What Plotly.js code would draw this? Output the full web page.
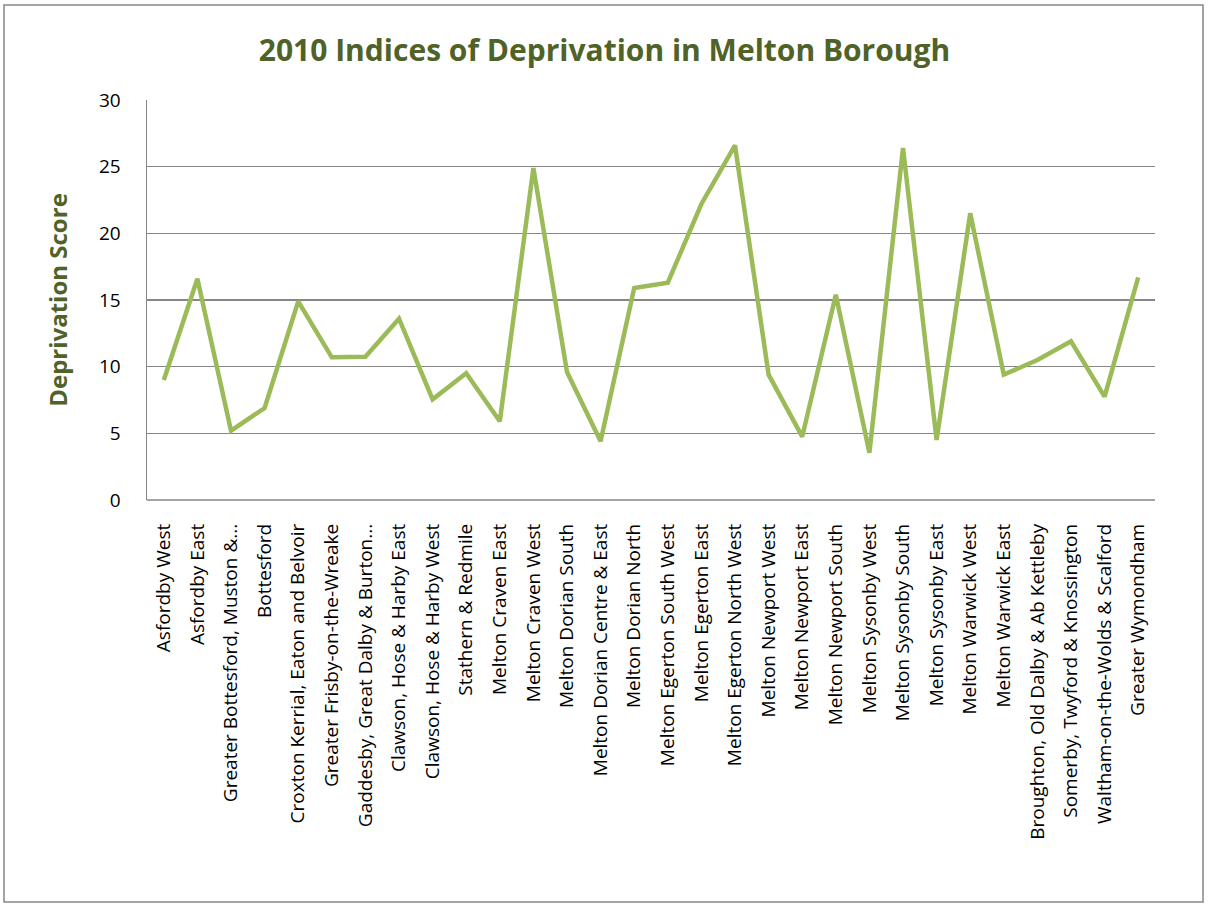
<!DOCTYPE html>
<html>
<head>
<meta charset="utf-8">
<script src="https://cdn.plot.ly/plotly-3.0.1.min.js"></script>
<style>html,body{margin:0;padding:0;background:#fff;}#chart{width:1209px;height:907px;}</style>
</head>
<body>
<div id="chart"></div>
<script>
const categories = [
  "Asfordby West", "Asfordby East", "Greater Bottesford, Muston &...", "Bottesford",
  "Croxton Kerrial, Eaton and Belvoir", "Greater Frisby-on-the-Wreake",
  "Gaddesby, Great Dalby & Burton...", "Clawson, Hose & Harby East",
  "Clawson, Hose & Harby West", "Stathern & Redmile", "Melton Craven East",
  "Melton Craven West", "Melton Dorian South", "Melton Dorian Centre & East",
  "Melton Dorian North", "Melton Egerton South West", "Melton Egerton East",
  "Melton Egerton North West", "Melton Newport West", "Melton Newport East",
  "Melton Newport South", "Melton Sysonby West", "Melton Sysonby South",
  "Melton Sysonby East", "Melton Warwick West", "Melton Warwick East",
  "Broughton, Old Dalby & Ab Kettleby", "Somerby, Twyford & Knossington",
  "Waltham-on-the-Wolds & Scalford", "Greater Wymondham"
];
const scores = [
  9.0, 16.6, 5.2, 6.9, 14.9, 10.7, 10.75, 13.6, 7.55, 9.5,
  5.9, 24.9, 9.6, 4.4, 15.9, 16.3, 22.2, 26.6, 9.4, 4.75,
  15.4, 3.55, 26.4, 4.5, 21.5, 9.4, 10.5, 11.9, 7.75, 16.7
];
const yTicks = [0, 5, 10, 15, 20, 25, 30];

const trace = {
  x: categories,
  y: scores,
  type: 'scatter',
  mode: 'lines',
  line: {color: '#9BBB59', width: 4.5},
  hoverinfo: 'x+y'
};

const W = 1209, H = 907, L = 147, R = 54, T = 100, B = 407;
const pw = W - L - R, ph = H - T - B;
const px = v => (v - L) / pw;
const py = v => (H - B - v) / ph;

const layout = {
  width: W, height: H,
  margin: {l: L, r: R, t: T, b: B},
  paper_bgcolor: '#ffffff',
  plot_bgcolor: '#ffffff',
  showlegend: false,
  font: {family: 'Open Sans, sans-serif', color: '#000000'},
  title: {
    text: '2010 Indices of Deprivation in Melton Borough',
    font: {family: 'Open Sans, sans-serif', size: 30, color: '#4F6228', weight: 'bold'},
    x: 0.5, xref: 'container', xanchor: 'center',
    y: 1 - 50 / H, yref: 'container', yanchor: 'middle'
  },
  xaxis: {
    type: 'category',
    tickangle: -90,
    tickfont: {size: 19, color: '#000000', family: 'Open Sans, sans-serif'},
    showgrid: false,
    showline: false,
    ticks: '',
    ticklabelstandoff: 19,
    automargin: false,
    range: [-0.5, categories.length - 0.5]
  },
  yaxis: {
    range: [0, 30],
    tickvals: yTicks,
    ticktext: yTicks.map(String),
    tickfont: {size: 19, color: '#000000', family: 'Open Sans, sans-serif'},
    showgrid: true,
    gridcolor: '#868686',
    gridwidth: 1.5,
    zeroline: false,
    showline: true,
    linecolor: '#868686',
    linewidth: 1.5,
    ticks: '',
    ticklabelstandoff: 21,
    automargin: false,
    title: {
      text: 'Deprivation Score',
      font: {family: 'Open Sans, sans-serif', size: 24, color: '#4F6228', weight: 'bold'},
      standoff: 24
    }
  },
  shapes: [
    {type: 'line', xref: 'paper', yref: 'paper', x0: 0, x1: 1, y0: 0, y1: 0,
     line: {color: '#868686', width: 1.5}},
    {type: 'rect', xref: 'paper', yref: 'paper',
     x0: px(4), x1: px(1203), y0: py(902), y1: py(5),
     line: {color: '#868686', width: 1.5}, fillcolor: 'rgba(0,0,0,0)', layer: 'below'}
  ]
};

Plotly.newPlot('chart', [trace], layout, {displayModeBar: false, staticPlot: true});
</script>
</body>
</html>
